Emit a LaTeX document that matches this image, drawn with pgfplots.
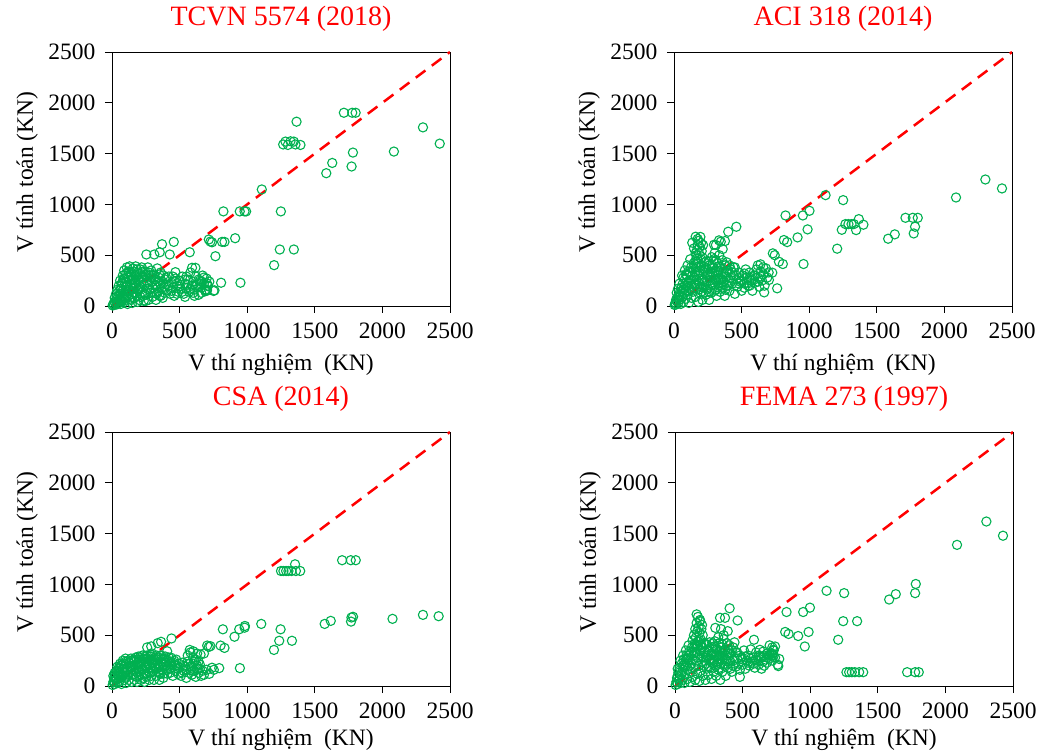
\documentclass[border=0pt]{standalone}
\usepackage{fontspec}
\setmainfont{Liberation Serif}
\usepackage{pgfplots}
\usepackage{pgfplotstable}
\pgfplotsset{compat=1.18}
\definecolor{mkgreen}{RGB}{0,176,80}

\pgfplotstableread{
x y
1715 1902
1777 1902
1802 1902
1365 1814
2300 1758
2424 1598
1266 1590
1283 1618
1301 1585
1320 1621
1345 1618
1357 1590
1394 1585
1782 1510
2085 1520
1772 1373
1629 1408
1585 1307
1108 1147
824 931
945 931
980 931
992 931
1249 931
911 667
716 654
728 634
740 627
814 631
832 631
765 490
1241 556
1345 556
1199 402
950 229
807 229
758 154
703 157
708 196
575 529
457 631
370 608
427 507
353 529
313 507
254 507
592 376
617 376
469 333
665 239
702 223
690 145
751 148
5 5
10 20
15 10
20 40
25 25
30 60
35 15
40 45
45 90
50 30
55 70
60 120
65 20
70 55
75 100
80 150
85 35
90 80
95 130
100 190
100 60
105 240
110 110
115 20
120 160
125 280
130 70
135 210
140 330
145 120
150 260
150 30
155 370
160 180
165 80
170 300
175 220
180 130
185 360
190 40
195 260
200 170
205 320
210 90
215 230
220 380
225 140
230 290
235 50
240 200
245 340
250 110
255 250
260 170
265 380
270 60
275 300
280 210
285 130
290 350
295 240
300 90
60 250
80 300
90 350
110 380
120 340
70 200
130 390
95 270
175 390
200 250
185 100
125 330
305 180
310 310
315 130
320 260
325 60
330 200
335 370
340 140
345 280
350 100
355 220
360 330
365 170
370 240
375 80
380 300
385 190
390 130
395 260
400 210
410 160
420 290
430 120
440 230
450 180
460 100
470 270
480 200
490 140
500 250
510 170
520 290
530 120
540 220
550 180
560 260
570 140
580 330
590 200
600 240
610 160
620 290
630 210
640 110
650 250
660 180
670 300
680 220
690 160
700 270
710 200
720 240
540 90
610 100
660 130
20 80
30 120
40 160
50 200
35 90
55 150
45 40
65 170
75 230
85 270
105 320
115 280
135 260
145 300
160 340
170 250
180 290
190 330
210 360
230 340
250 310
270 330
290 280
120 100
140 60
160 130
180 200
200 60
220 280
240 120
260 230
280 160
300 300
160 230
190 160
110 200
90 240
75 50
130 150
210 190
230 100
250 50
150 90
100 150
320 200
340 240
360 100
380 220
400 280
420 200
440 150
460 240
480 120
500 190
520 140
540 260
560 210
580 170
600 130
620 200
640 260
660 240
680 280
700 150
350 310
330 120
450 290
550 290
}\tcvn

\pgfplotstableread{
x y
2303 1245
2426 1157
2086 1068
1121 1091
1251 1042
825 891
953 891
1002 937
988 754
914 675
813 649
837 629
1207 564
1241 750
1268 806
1290 806
1313 806
1330 806
1347 747
1367 855
1401 800
1712 868
1766 868
1803 868
1783 780
1773 714
1584 662
1633 705
958 413
727 328
763 174
667 134
702 256
805 413
776 436
731 518
745 500
461 780
401 731
296 603
333 646
377 639
160 682
135 623
148 567
5 10
10 30
15 15
20 50
25 80
30 25
35 110
40 60
45 140
50 20
55 180
60 90
65 220
70 40
75 130
80 260
85 70
90 200
95 300
100 110
105 340
110 30
115 170
120 250
125 380
130 80
135 300
140 140
145 420
150 210
60 300
80 350
100 400
120 460
40 220
70 280
90 150
110 240
160 450
165 500
170 550
175 600
180 640
170 470
185 520
190 580
195 680
175 660
200 620
205 540
210 480
165 420
215 600
160 520
155 330
160 90
165 260
170 380
175 180
180 40
185 300
190 220
195 130
200 400
205 270
210 60
215 340
220 180
225 430
230 240
235 110
240 370
245 300
250 170
255 440
260 60
265 250
270 340
275 130
280 400
285 210
290 300
295 460
300 150
305 350
310 250
315 100
320 420
325 300
330 200
335 500
340 140
345 380
350 260
355 450
360 180
365 330
370 240
375 100
380 400
385 290
390 200
400 350
410 150
420 280
430 220
440 380
450 120
440 300
310 600
346 633
360 560
300 520
280 480
460 260
470 190
480 330
490 240
500 150
510 300
520 220
530 360
540 280
550 200
560 330
570 250
580 150
590 300
600 230
610 360
620 280
630 190
640 340
650 250
660 310
670 200
680 370
690 280
700 330
620 400
640 410
660 380
20 130
30 170
50 100
70 160
90 310
110 150
130 200
150 280
170 310
190 350
210 250
230 360
250 330
270 280
290 220
310 160
330 390
350 330
370 290
390 430
410 250
430 330
450 380
140 370
160 220
180 160
200 190
220 130
240 230
260 140
280 320
300 260
320 350
340 270
360 230
380 160
400 200
420 360
100 200
120 330
80 200
60 150
40 100
15 60
180 420
200 460
220 390
240 440
260 400
270 200
290 380
310 450
330 250
350 200
370 410
390 330
410 400
460 300
480 280
500 250
520 320
540 230
560 280
580 260
600 300
620 240
640 290
480 220
520 180
560 200
}\aci

\pgfplotstableread{
x y
2300 700
2416 687
2075 661
1702 1238
1766 1238
1803 1238
1771 674
1783 681
1768 634
1573 611
1618 641
1250 1132
1268 1132
1288 1132
1305 1132
1328 1132
1360 1132
1392 1132
1354 1198
1104 611
1247 558
1237 445
1331 445
1198 355
820 558
941 558
981 574
983 591
906 485
946 176
793 176
753 159
704 398
716 385
728 392
803 398
832 375
655 309
680 320
440 468
338 422
363 435
575 355
600 342
630 319
408 342
247 292
284 309
5 10
10 40
15 80
20 20
25 120
30 60
35 150
40 30
45 100
50 180
55 50
60 130
65 200
70 20
75 90
80 160
85 220
90 60
95 130
100 240
105 30
110 180
115 100
120 250
125 60
130 200
135 140
140 270
145 40
150 180
20 130
40 190
60 220
80 250
100 270
10 100
155 110
160 260
165 60
170 200
175 280
180 140
185 40
190 230
195 290
200 100
205 190
210 260
215 60
220 160
225 300
230 220
235 120
240 40
245 260
250 180
255 90
260 300
265 220
270 140
275 60
280 260
285 180
290 100
295 320
300 220
260 380
290 390
305 140
310 60
315 260
320 180
325 100
330 300
335 220
340 140
345 280
350 60
355 200
360 120
365 300
370 240
375 160
380 80
385 270
390 190
400 230
410 120
420 280
430 170
440 220
450 100
460 250
470 150
480 200
490 120
500 180
510 100
520 230
530 150
540 190
550 80
560 240
570 130
580 190
590 110
600 220
610 150
620 90
630 200
640 130
650 170
660 100
670 150
560 300
580 330
600 280
620 260
640 240
700 160
720 120
740 180
680 110
15 50
25 90
35 70
45 140
55 170
65 110
75 210
85 130
95 190
105 220
115 150
125 230
135 190
145 250
155 200
165 240
175 160
185 260
195 210
205 280
215 230
225 170
235 270
245 200
255 240
265 270
275 200
285 290
295 250
305 230
315 200
325 280
335 260
345 180
355 300
365 230
375 260
385 210
395 290
405 250
415 190
425 240
435 280
445 190
455 230
465 200
475 260
485 170
495 220
150 110
200 150
250 120
300 170
350 130
400 160
100 80
50 100
180 90
230 80
280 130
330 170
380 120
430 130
530 200
550 160
570 220
590 180
610 240
630 170
650 210
520 130
600 150
}\csa

\pgfplotstableread{
x y
2303 1619
2426 1479
2086 1389
1584 851
1633 904
1781 1004
1776 914
1121 937
1251 914
1244 638
1347 638
1207 455
1268 136
1288 136
1308 136
1330 136
1362 136
1392 136
1717 136
1776 136
1803 136
825 728
948 728
998 771
988 532
911 492
960 389
815 532
840 512
764 196
771 266
727 356
720 318
740 389
463 645
404 765
333 671
370 671
298 572
160 705
185 638
584 455
480 90
628 356
653 339
5 10
10 40
15 80
20 20
25 130
30 60
35 180
40 30
45 110
50 220
55 60
60 160
65 260
70 30
75 120
80 200
85 300
90 70
95 170
100 250
105 340
110 40
115 140
120 220
125 380
130 90
135 300
140 180
145 420
150 60
40 250
60 300
80 350
100 400
20 170
130 450
140 500
150 560
160 620
170 680
175 580
180 520
190 460
200 600
165 540
155 480
185 650
195 560
205 500
155 240
160 340
165 120
170 400
175 200
180 50
185 300
190 150
195 380
200 240
205 100
210 330
215 200
220 420
225 60
230 280
235 170
240 360
245 110
250 250
255 430
260 180
265 300
270 70
275 380
280 230
285 140
290 320
295 440
300 200
305 100
310 360
315 260
320 160
325 420
330 300
335 60
340 220
345 380
350 140
355 300
360 460
365 200
370 350
375 100
380 260
385 420
390 180
400 320
410 240
420 140
430 380
440 270
450 190
340 560
360 500
390 540
320 480
460 330
470 220
480 160
490 280
500 210
510 350
520 170
530 250
540 300
550 200
560 360
570 240
580 280
590 180
600 330
610 250
620 210
630 290
640 170
650 240
660 200
670 260
680 230
690 300
700 270
710 320
720 250
730 300
740 280
700 400
720 380
730 350
760 210
20 100
30 150
50 130
70 210
90 270
110 200
130 260
150 330
170 280
190 350
210 280
230 410
250 350
270 320
290 390
310 300
330 350
350 410
370 270
390 360
410 320
430 250
450 330
140 380
160 410
180 450
200 380
220 340
240 300
260 260
280 420
300 380
320 230
340 300
360 330
380 300
400 400
420 350
440 430
100 300
120 330
80 260
60 200
150 400
170 440
190 400
210 420
230 220
250 190
270 240
290 260
310 220
330 180
350 260
370 220
390 240
410 170
430 200
460 270
480 300
500 260
520 290
540 230
560 270
580 220
600 260
620 300
640 280
660 300
680 320
700 310
720 300
}\fema

\pgfplotsset{
  panel/.style={
    scale only axis, width=338bp, height=254bp,
    anchor=south west,
    xmin=0, xmax=2500, ymin=0, ymax=2500,
    xtick={0,500,1000,1500,2000,2500},
    ytick={0,500,1000,1500,2000,2500},
    tick align=outside, xtick pos=left, ytick pos=left,
    major tick length=7bp,
    every tick/.style={black, line width=0.8bp},
    axis line style={black, line width=0.8bp},
    tick label style={font=\fontsize{23.5bp}{26bp}\selectfont},
    /pgf/number format/assume math mode=true,
    /pgf/number format/set thousands separator={},
    xticklabel style={yshift=-6bp},
    yticklabel style={xshift=-6bp},
    label style={font=\fontsize{23.5bp}{26bp}\selectfont},
    xlabel={V thí nghiệm\ \ (KN)},
    ylabel={V tính toán (KN)},
    xlabel style={at={(axis description cs:0.5,-0.255)}, anchor=base},
    ylabel style={at={(axis description cs:-0.234,0.527)}, anchor=base},
    title style={at={(axis description cs:0.5,1.079)}, anchor=base,
      font=\fontsize{28bp}{32bp}\selectfont, text=red},
  },
  lowpanel/.style={xlabel style={at={(axis description cs:0.5,-0.236)}}},
  pts/.style={only marks, mark=o, mark size=4.6bp, mkgreen,
    mark options={line width=1.1bp}},
  diag/.style={red, line width=2.5bp, dash pattern=on 12bp off 8bp},
}

\begin{document}
\begin{tikzpicture}
\path[use as bounding box] (0,0) rectangle (1043bp,753bp);
\begin{axis}[panel, at={(112bp,447bp)}, title={TCVN 5574 (2018)}]
\addplot[diag] coordinates {(0,0) (2500,2500)};
\addplot[pts] table[x=x,y=y] {\tcvn};
\end{axis}
\begin{axis}[panel, at={(674bp,447bp)}, title={ACI 318 (2014)}]
\addplot[diag] coordinates {(0,0) (2500,2500)};
\addplot[pts] table[x=x,y=y] {\aci};
\end{axis}
\begin{axis}[panel, lowpanel, at={(112bp,67bp)}, title={CSA (2014)}]
\addplot[diag] coordinates {(0,0) (2500,2500)};
\addplot[pts] table[x=x,y=y] {\csa};
\end{axis}
\begin{axis}[panel, lowpanel, at={(675bp,67bp)}, title={FEMA 273 (1997)}]
\addplot[diag] coordinates {(0,0) (2500,2500)};
\addplot[pts] table[x=x,y=y] {\fema};
\end{axis}
\end{tikzpicture}
\end{document}
